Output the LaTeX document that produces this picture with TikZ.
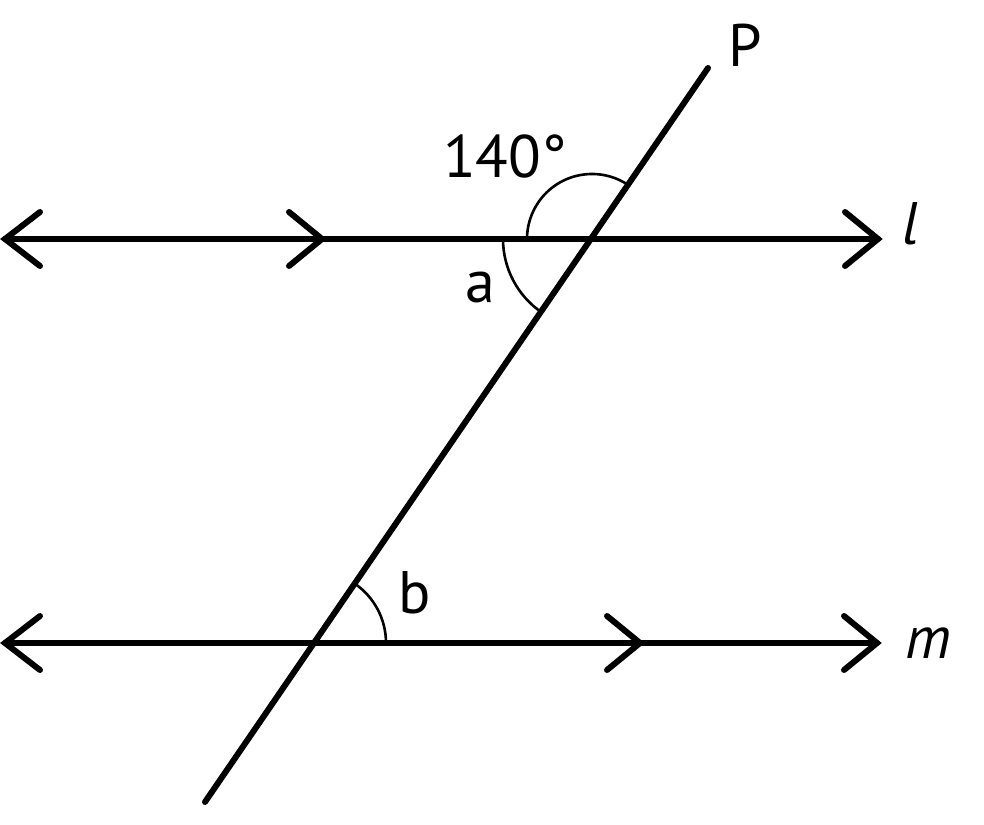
\documentclass[tikz,border=0pt]{standalone}
\usepackage{fontspec}
\setmainfont{PT Sans}
\begin{document}
\begin{tikzpicture}[x=1pt,y=1pt,
  mainline/.style={line width=6pt,line cap=round},
  chev/.style={line width=6pt,line cap=round,line join=miter},
  anglearc/.style={line width=2.6pt},
  lbl/.style={inner sep=0pt,font=\fontsize{60}{68}\selectfont}]
\useasboundingbox (0,0) rectangle (984,824);
% line l
\coordinate (lL) at (5,585);
\coordinate (lR) at (878,585);
\coordinate (lM) at (322,585);
% line m
\coordinate (mL) at (5,181);
\coordinate (mR) at (877,181);
\coordinate (mM) at (640,181);
% transversal
\coordinate (tT) at (708,756);
\coordinate (tB) at (205,22);
\coordinate (A) at (592,585);
\coordinate (B) at (314,181);

\draw[mainline] (lL) -- (lR);
\draw[mainline] (mL) -- (mR);
\draw[mainline] (tB) -- (tT);

% chevrons
\draw[chev] ([shift={(35,27)}]lL) -- (lL) -- ([shift={(35,-27)}]lL);
\draw[chev] ([shift={(-33,27)}]lR) -- (lR) -- ([shift={(-33,-27)}]lR);
\draw[chev] ([shift={(-33,27)}]lM) -- (lM) -- ([shift={(-33,-27)}]lM);
\draw[chev] ([shift={(35,27)}]mL) -- (mL) -- ([shift={(35,-27)}]mL);
\draw[chev] ([shift={(-33,27)}]mR) -- (mR) -- ([shift={(-33,-27)}]mR);
\draw[chev] ([shift={(-33,27)}]mM) -- (mM) -- ([shift={(-33,-27)}]mM);

% angle arcs
\draw[anglearc] ([shift={(55.57:65)}]A) arc[start angle=55.57,end angle=180,radius=65];
\draw[anglearc] ([shift={(180:89)}]A) arc[start angle=180,end angle=235.57,radius=89];
\draw[anglearc] ([shift={(0:72)}]B) arc[start angle=0,end angle=55.57,radius=72];

% labels
\node[lbl] (P) at (745,779) {P};
\node[lbl] (ang) at (505,667) {140°};
\node[lbl] (a) at (480,536) {a};
\node[lbl] (b) at (415,231) {b};
\node[lbl] (l) at (911,600) {\itshape l};
\node[lbl] (m) at (928,181) {\itshape m};
\end{tikzpicture}
\end{document}
